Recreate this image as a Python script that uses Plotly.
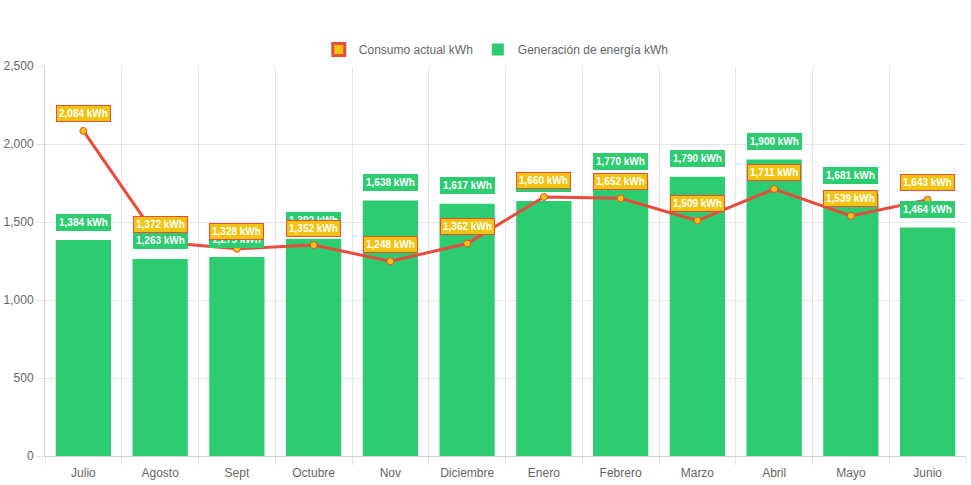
import plotly.graph_objects as go

months = ["Julio", "Agosto", "Sept", "Octubre", "Nov", "Diciembre", "Enero",
          "Febrero", "Marzo", "Abril", "Mayo", "Junio"]
consumo = [2084, 1372, 1328, 1352, 1248, 1362, 1660, 1652, 1509, 1711, 1539, 1643]
generacion = [1384, 1263, 1275, 1392, 1638, 1617, 1634, 1770, 1790, 1900, 1681, 1464]

GREEN = "#2ecc71"
YELLOW = "#f1c40f"
RED = "#e74c3c"
FONT = "Liberation Sans, Arial, sans-serif"

fig = go.Figure()

# legend-only proxy for the line series (Chart.js-style box)
fig.add_trace(go.Bar(x=[None], y=[None], name="Consumo actual kWh",
                     marker=dict(color=YELLOW, line=dict(color=RED, width=3)),
                     showlegend=True, hoverinfo="skip"))
fig.add_trace(go.Bar(x=months, y=generacion, name="Generación de energía kWh",
                     marker=dict(color=GREEN, line=dict(color=GREEN, width=0)),
                     width=0.72, hoverinfo="skip"))
fig.add_trace(go.Scatter(x=months, y=consumo, name="Consumo actual kWh",
                         mode="lines+markers",
                         line=dict(color=RED, width=3),
                         marker=dict(color=YELLOW, size=7, line=dict(color=RED, width=1)),
                         showlegend=False, hoverinfo="skip"))

annotations = []
for m, v in zip(months, generacion):
    annotations.append(dict(x=m, y=v, xref="x", yref="y", text=f"<b>{v:,} kWh</b>",
                            showarrow=False, yshift=18,
                            font=dict(family=FONT, size=10, color="white"),
                            bgcolor=GREEN, bordercolor=GREEN, borderwidth=1, borderpad=2))
for m, v in zip(months, consumo):
    annotations.append(dict(x=m, y=v, xref="x", yref="y", text=f"<b>{v:,} kWh</b>",
                            showarrow=False, yshift=17,
                            font=dict(family=FONT, size=10, color="white"),
                            bgcolor=YELLOW, bordercolor=RED, borderwidth=1, borderpad=2))

fig.update_layout(
    width=971, height=485,
    margin=dict(l=45, r=5, t=66, b=29),
    paper_bgcolor="white", plot_bgcolor="white",
    barmode="overlay",
    font=dict(family=FONT, size=12, color="#666"),
    legend=dict(orientation="h", x=0.49, xanchor="center", y=1.005, yanchor="bottom",
                font=dict(family=FONT, size=12, color="#666"), traceorder="normal"),
    annotations=annotations,
    xaxis=dict(type="category", range=[-0.5, len(months) - 0.5], tickson="boundaries",
               showgrid=True, gridcolor="#e6e6e6",
               ticks="outside", ticklen=8, tickcolor="#e6e6e6", automargin=False,
               ticklabelstandoff=6,
               showline=True, linecolor="#d0d0d0", linewidth=1,
               tickfont=dict(family=FONT, size=12, color="#666")),
    yaxis=dict(range=[0, 2500], dtick=500, tickformat=",", showgrid=True, gridcolor="#e6e6e6",
               ticks="outside", ticklen=8, tickcolor="#e6e6e6", zeroline=False, automargin=False,
               showline=True, linecolor="#d0d0d0", linewidth=1,
               tickfont=dict(family=FONT, size=12, color="#666")),
)

fig.write_html("out.html", config={"displayModeBar": False},
               post_script="document.body.style.margin='0';document.body.style.overflow='hidden';")
